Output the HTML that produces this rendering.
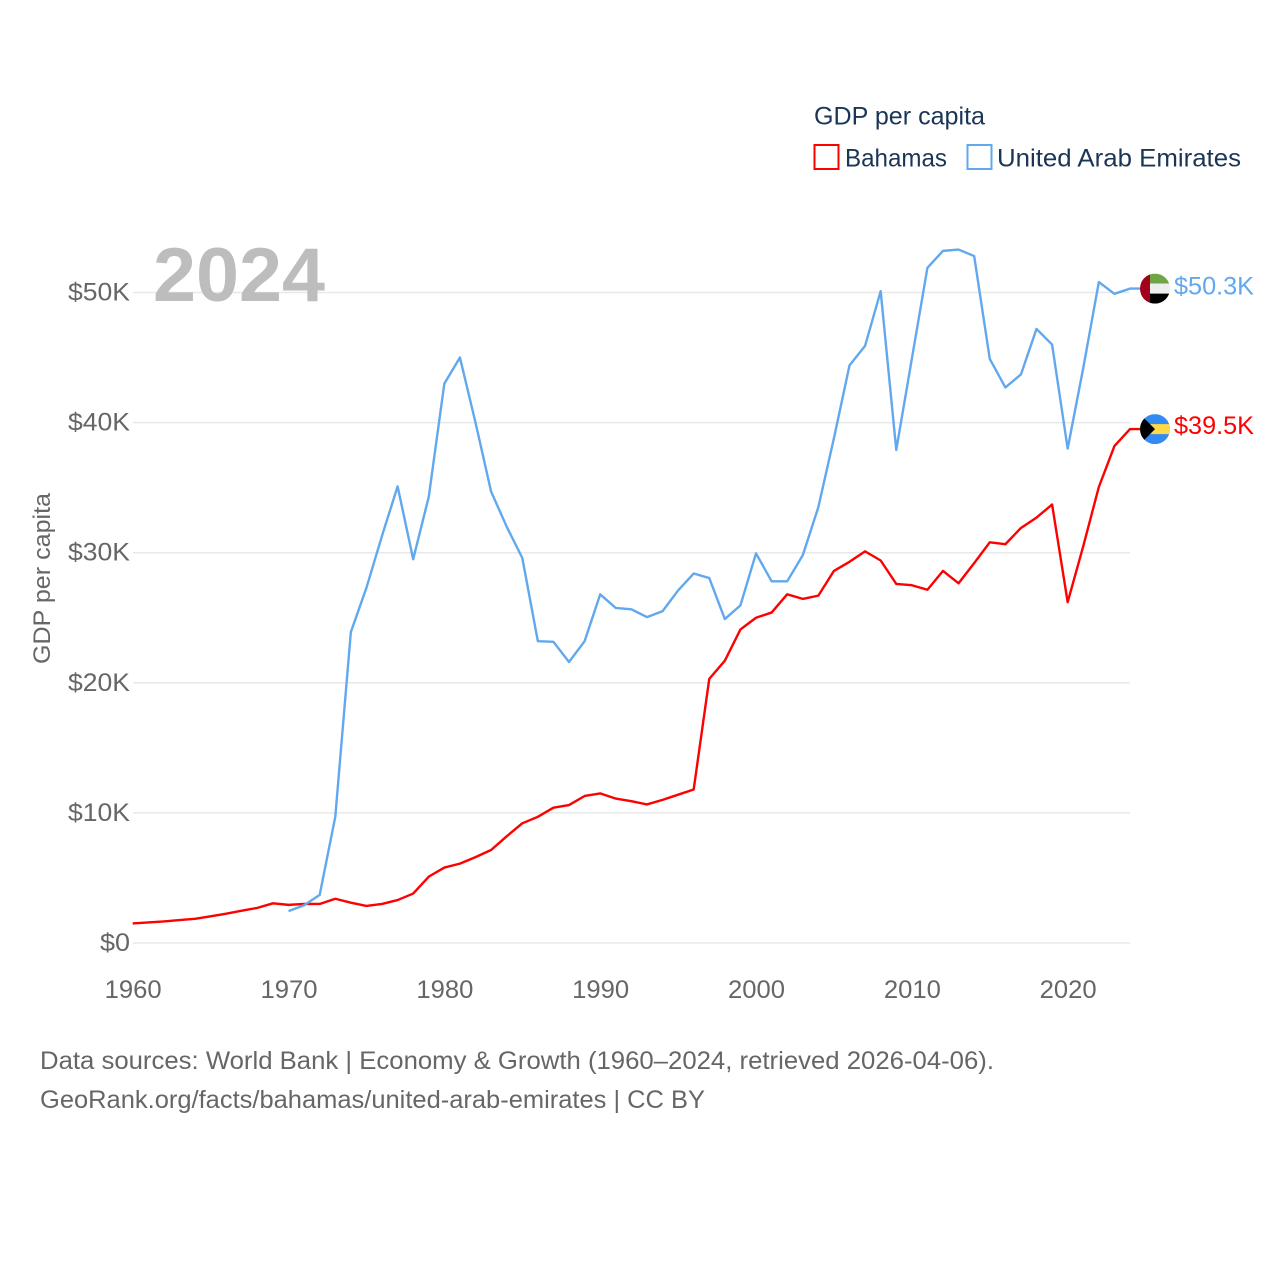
<!DOCTYPE html>
<html lang="en">
<head>
<meta charset="utf-8">
<title>GDP per capita: Bahamas and United Arab Emirates</title>
<style>
html,body{margin:0;padding:0;background:#fff;}
svg{display:block;font-family:"Liberation Sans",sans-serif;}
</style>
</head>
<body>
<svg id="chart" xmlns="http://www.w3.org/2000/svg" width="1280" height="1280" viewBox="0 0 1280 1280">
  <defs>
    <clipPath id="flag-clip"><circle cx="0" cy="0" r="15"></circle></clipPath>
  </defs>
  <rect x="0" y="0" width="1280" height="1280" fill="#ffffff"></rect>
  <g id="grid"></g>
  <g id="y-ticks"></g>
  <g id="x-ticks"></g>
  <text x="153" y="301" font-size="76" font-weight="700" fill="#bdbdbd" textLength="172" lengthAdjust="spacingAndGlyphs">2024</text>
  <text transform="translate(50,664) rotate(-90)" font-size="24" fill="#666666" textLength="171" lengthAdjust="spacingAndGlyphs">GDP per capita</text>
  <g id="lines"></g>

  <g>
    <text x="814" y="124.5" font-size="25" fill="#1b3556" textLength="171" lengthAdjust="spacingAndGlyphs">GDP per capita</text>
    <g>
      <rect x="814.5" y="145" width="24" height="24" fill="#ffffff" stroke="#ff0000" stroke-width="2"></rect>
      <text x="845" y="166.5" font-size="25" fill="#1b3556" textLength="102" lengthAdjust="spacingAndGlyphs">Bahamas</text>
    </g>
    <g>
      <rect x="967.5" y="145" width="24" height="24" fill="#ffffff" stroke="#62a8ee" stroke-width="2"></rect>
      <text x="997" y="166.5" font-size="25" fill="#1b3556" textLength="244" lengthAdjust="spacingAndGlyphs">United Arab Emirates</text>
    </g>
  </g>

  <g id="flag-uae">
    <g clip-path="url(#flag-clip)">
      <rect x="-15" y="-15" width="30" height="10" fill="#6ea646"></rect>
      <rect x="-15" y="-5" width="30" height="10" fill="#eeeeee"></rect>
      <rect x="-15" y="5" width="30" height="10" fill="#000000"></rect>
      <rect x="-15" y="-15" width="10" height="30" fill="#a2001d"></rect>
    </g>
  </g>
  <g id="flag-bahamas">
    <g clip-path="url(#flag-clip)">
      <rect x="-15" y="-15" width="30" height="30" fill="#338af3"></rect>
      <rect x="-15" y="-5" width="30" height="10" fill="#ffda44"></rect>
      <polygon points="-15,-15 0,0 -15,15" fill="#000000"></polygon>
    </g>
  </g>
  <text id="label-uae" x="1174" font-size="25" fill="#62a8ee" textLength="80" lengthAdjust="spacingAndGlyphs"></text>
  <text id="label-bahamas" x="1174" font-size="25" fill="#ff0000" textLength="80" lengthAdjust="spacingAndGlyphs"></text>

  <text x="40" y="1069" font-size="25" fill="#666666" textLength="954" lengthAdjust="spacingAndGlyphs">Data sources: World Bank | Economy &amp; Growth (1960–2024, retrieved 2026-04-06).</text>
  <text x="40" y="1108" font-size="25" fill="#666666" textLength="665" lengthAdjust="spacingAndGlyphs">GeoRank.org/facts/bahamas/united-arab-emirates | CC BY</text>
</svg>

<script>
const yTickValues = [0, 10, 20, 30, 40, 50];
const yTickLabels = ["$0", "$10K", "$20K", "$30K", "$40K", "$50K"];
const xTickYears = [1960, 1970, 1980, 1990, 2000, 2010, 2020];
const bahamasStartYear = 1960;
const bahamasValues = [1.5, 1.58, 1.66, 1.76, 1.86, 2.05, 2.25, 2.48, 2.7, 3.05,
  2.93, 3.0, 3.0, 3.4, 3.1, 2.85, 3.0, 3.3, 3.8, 5.1,
  5.8, 6.1, 6.6, 7.15, 8.2, 9.2, 9.7, 10.4, 10.6, 11.3,
  11.5, 11.1, 10.9, 10.65, 11.0, 11.4, 11.8, 20.3, 21.7, 24.1,
  25.0, 25.4, 26.8, 26.45, 26.7, 28.6, 29.3, 30.1, 29.4, 27.6,
  27.5, 27.15, 28.6, 27.65, 29.2, 30.8, 30.65, 31.9, 32.7, 33.7,
  26.2, 30.5, 35.05, 38.2, 39.5];
const uaeStartYear = 1970;
const uaeValues = [2.45, 2.9, 3.7, 9.7, 23.9, 27.3, 31.3, 35.1, 29.5, 34.3,
  43.0, 45.0, 40.0, 34.7, 32.0, 29.6, 23.2, 23.15, 21.6, 23.2,
  26.8, 25.75, 25.65, 25.05, 25.5, 27.1, 28.4, 28.05, 24.9, 25.95,
  29.95, 27.8, 27.8, 29.8, 33.5, 38.8, 44.4, 45.9, 50.1, 37.9,
  44.9, 51.9, 53.2, 53.3, 52.8, 44.9, 42.7, 43.7, 47.2, 46.0,
  38.0, 44.2, 50.8, 49.9, 50.3];

const NS = "http://www.w3.org/2000/svg";
const xScale = function (year) { return 132.7 + (year - 1960) * (1130 - 132.7) / (2024 - 1960); };
const yScale = function (v) { return 943 - v * 13.01; };

function make(tag, attrs, parent) {
  const el = document.createElementNS(NS, tag);
  Object.keys(attrs).forEach(function (k) { el.setAttribute(k, attrs[k]); });
  parent.appendChild(el);
  return el;
}

const gridGroup = document.getElementById("grid");
const yGroup = document.getElementById("y-ticks");
yTickValues.forEach(function (v, i) {
  const line = make("line", { x1: 133, x2: 1130, y1: yScale(v), y2: yScale(v), stroke: "#e8e8e8", "stroke-width": 1.5 }, gridGroup);
  
  
  const label = make("text", { x: 130, y: yScale(v) + 8, "font-size": 25, fill: "#666666", "text-anchor": "end", textLength: i === 0 ? 30 : 62, lengthAdjust: "spacingAndGlyphs" }, yGroup);
  
  
  label.textContent = yTickLabels[i];
});

const xGroup = document.getElementById("x-ticks");
xTickYears.forEach(function (year) {
  const label = make("text", { x: xScale(year) + 0.5, y: 998, "font-size": 25, fill: "#666666", "text-anchor": "middle", textLength: 57, lengthAdjust: "spacingAndGlyphs" }, xGroup);
  
  
  label.textContent = String(year);
});

const lineGroup = document.getElementById("lines");
function drawSeries(values, startYear, color, name) {
  const pts = values.map(function (v, i) { return xScale(startYear + i).toFixed(2) + "," + yScale(v).toFixed(2); });
  const lastY = yScale(values[values.length - 1]);
  pts.push("1140," + lastY.toFixed(2));
  const path = make("polyline", { points: pts.join(" "), fill: "none", stroke: color, "stroke-width": 2.4, "stroke-linejoin": "round" }, lineGroup);
  
  
  return lastY;
}
const bahamasEndY = drawSeries(bahamasValues, bahamasStartYear, "#ff0000", "bahamas-line");
const uaeEndY = drawSeries(uaeValues, uaeStartYear, "#62a8ee", "uae-line");

document.getElementById("flag-uae").setAttribute("transform", "translate(1155," + uaeEndY + ")");
document.getElementById("flag-bahamas").setAttribute("transform", "translate(1155," + bahamasEndY + ")");
const uaeLabel = document.getElementById("label-uae");
uaeLabel.setAttribute("y", uaeEndY + 6);
uaeLabel.textContent = "$" + uaeValues[uaeValues.length - 1].toFixed(1) + "K";
const bahamasLabel = document.getElementById("label-bahamas");
bahamasLabel.setAttribute("y", bahamasEndY + 5);
bahamasLabel.textContent = "$" + bahamasValues[bahamasValues.length - 1].toFixed(1) + "K";
</script>
</body>
</html>
